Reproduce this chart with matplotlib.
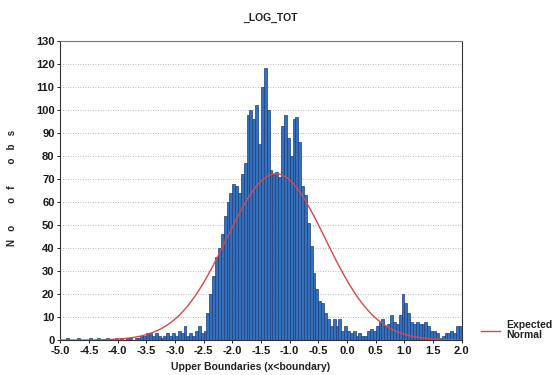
import numpy as np
from matplotlib import pyplot as plt
from matplotlib.lines import Line2D

plt.rcParams['font.family'] = ['Liberation Sans', 'DejaVu Sans']

# histogram of _LOG_TOT, bins of 0.05 from -5.0 to 2.0
bin_start = -5.0
bin_width = 0.05
counts = [
    0, 0, 1, 0, 0, 0, 1, 0, 0, 0,          # -5.0 .. -4.5
    1, 0, 0, 1, 0, 0, 1, 0, 0, 1,          # -4.5 .. -4.0
    0, 1, 0, 1, 1, 0, 1, 1, 2, 2,          # -4.0 .. -3.5
    3, 3, 2, 3, 2, 1, 2, 3, 2, 3,          # -3.5 .. -3.0
    2, 4, 3, 6, 2, 3, 2, 4, 6, 3,          # -3.0 .. -2.5
    4, 12, 20, 28, 36, 40, 46, 54, 60, 64,  # -2.5 .. -2.0
    68, 67, 64, 72, 77, 98, 100, 96, 102, 85,   # -2.0 .. -1.5
    110, 118, 100, 74, 72, 73, 71, 93, 98, 88,  # -1.5 .. -1.0
    80, 96, 97, 86, 67, 63, 51, 41, 29, 22,     # -1.0 .. -0.5
    17, 16, 12, 9, 6, 9, 6, 9, 4, 6,       # -0.5 .. 0.0
    4, 3, 4, 2, 3, 2, 2, 4, 5, 4,          # 0.0 .. 0.5
    6, 8, 9, 6, 7, 11, 8, 7, 11, 20,       # 0.5 .. 1.0
    16, 12, 8, 7, 8, 7, 7, 8, 6, 4,        # 1.0 .. 1.5
    4, 3, 1, 2, 3, 3, 4, 3, 6, 6,          # 1.5 .. 2.0
]
x_ticks = np.arange(-5.0, 2.01, 0.5)
y_ticks = np.arange(0, 131, 10)

counts = np.array(counts, dtype=float)
edges = bin_start + bin_width * np.arange(len(counts) + 1)
centers = (edges[:-1] + edges[1:]) / 2

# expected normal from the data
n = counts.sum()
mu = (counts * centers).sum() / n
sd = np.sqrt((counts * (centers - mu) ** 2).sum() / n)
xs = np.linspace(-5.0, 2.0, 400)
expected = n * bin_width * np.exp(-0.5 * ((xs - mu) / sd) ** 2) / (sd * np.sqrt(2 * np.pi))

fig = plt.figure(figsize=(5.57, 3.75), dpi=100)
ax = fig.add_axes([0.108, 0.093, 0.721, 0.798])

ax.bar(edges[:-1], counts, width=bin_width, align='edge',
       color='#3470bb', edgecolor='#1d3f7e', linewidth=0.5, zorder=2)
ax.plot(xs, expected, color='#d9474b', linewidth=1.0, zorder=3)

ax.set_xlim(-5.0, 2.0)
ax.set_ylim(0, 130)
ax.set_xticks(x_ticks)
ax.set_xticklabels(['%.1f' % t for t in x_ticks])
ax.set_yticks(y_ticks)
ax.tick_params(labelsize=8, length=2, width=0.6, pad=2)
for lab in ax.get_xticklabels() + ax.get_yticklabels():
    lab.set_fontweight('bold')
    lab.set_color('#1a1a1a')

ax.grid(axis='y', linestyle=(0, (1, 2)), color='#a5a5a5', linewidth=0.6, zorder=0)
ax.spines['top'].set_linestyle((0, (2, 1)))
ax.spines['top'].set_color('#777777')
for s in ['left', 'right', 'bottom']:
    ax.spines[s].set_color('#333333')
    ax.spines[s].set_linewidth(0.8)

fig.text(0.485, 0.953, '_LOG_TOT', ha='center', va='center', fontsize=7.5,
         fontweight='bold', color='#222222')
fig.text(0.45, 0.02, 'Upper Boundaries (x<boundary)', ha='center', va='center',
         fontsize=7.5, fontweight='bold', color='#222222')
fig.text(0.022, 0.5, 'N   o        o   f        o   b   s', rotation=90,
         ha='center', va='center', fontsize=7, fontweight='bold', color='#222222')

fig.add_artist(Line2D([0.864, 0.897], [0.117, 0.117], color='#d9474b',
                      linewidth=1.0, transform=fig.transFigure))
fig.text(0.908, 0.12, 'Expected\nNormal', ha='left', va='center', fontsize=7.5,
         fontweight='bold', color='#222222', linespacing=1.1)

fig.savefig('out.png', dpi=100)
